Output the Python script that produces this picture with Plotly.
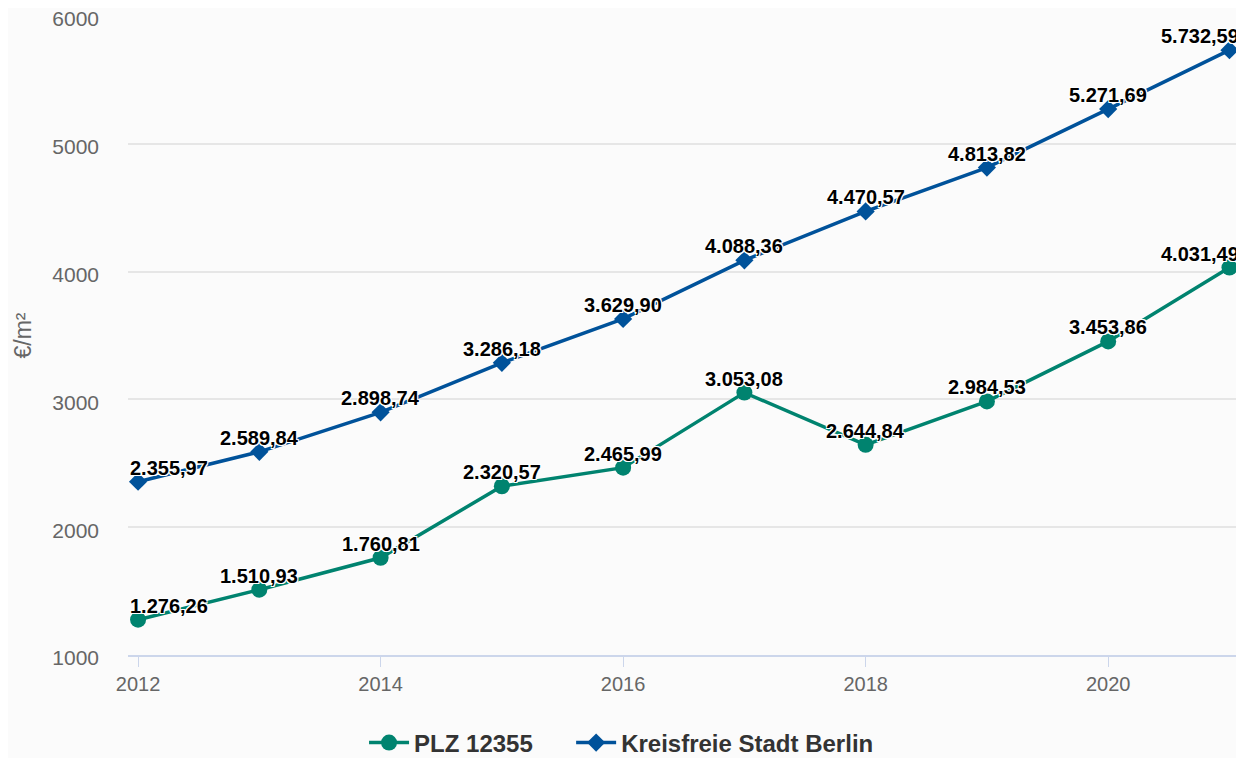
import plotly.graph_objects as go

years = [2012, 2013, 2014, 2015, 2016, 2017, 2018, 2019, 2020, 2021]
plz_values = [1276.26, 1510.93, 1760.81, 2320.57, 2465.99, 3053.08, 2644.84, 2984.53, 3453.86, 4031.49]
berlin_values = [2355.97, 2589.84, 2898.74, 3286.18, 3629.90, 4088.36, 4470.57, 4813.82, 5271.69, 5732.59]
y_ticks = [1000, 2000, 3000, 4000, 5000, 6000]
x_ticks = [2012, 2014, 2016, 2018, 2020]

TEAL = "#00836f"
BLUE = "#00529a"
FONT = "Liberation Sans, Arial"
GAP = "\u00a0" * 5  # extra room between legend entries


def de_format(v):
    s = f"{v:,.2f}"
    return s.replace(",", "X").replace(".", ",").replace("X", ".")


halo = "-1px -1px 0 #fff, 1px -1px 0 #fff, -1px 1px 0 #fff, 1px 1px 0 #fff, 0 1px 0 #fff, 0 -1px 0 #fff"
label_font = dict(family=FONT, size=20, color="#000000", weight="bold", shadow=halo)

fig = go.Figure()
fig.add_trace(go.Scatter(
    x=years, y=plz_values, name="PLZ 12355" + GAP,
    mode="lines+markers",
    line=dict(color=TEAL, width=3.5),
    marker=dict(symbol="circle", size=16, color=TEAL),
    cliponaxis=False,
))
fig.add_trace(go.Scatter(
    x=years, y=berlin_values, name="Kreisfreie Stadt Berlin",
    mode="lines+markers",
    line=dict(color=BLUE, width=3.5),
    marker=dict(symbol="diamond", size=14, color=BLUE),
    cliponaxis=False,
))

# data labels (kept inside the plot box at both ends)
annotations = []
for series in (plz_values, berlin_values):
    for i, (x, y) in enumerate(zip(years, series)):
        shift = 0
        if i == 0:
            shift = 31
        elif i == len(years) - 1:
            shift = -29
        annotations.append(dict(
            x=x, y=y, xref="x", yref="y", text=de_format(y),
            showarrow=False, xanchor="center", yanchor="bottom",
            xshift=shift, yshift=1, font=label_font,
        ))

# y axis title
annotations.append(dict(
    x=0, y=0.5, xref="paper", yref="paper", text="€/m²", textangle=-90,
    showarrow=False, xanchor="center", yanchor="middle", xshift=-106,
    font=dict(family=FONT, size=23, color="#666666"),
))

fig.update_layout(
    width=1236, height=750,
    paper_bgcolor="#fbfbfb", plot_bgcolor="#fbfbfb",
    margin=dict(l=120, r=0, t=8, b=103, autoexpand=False),
    font=dict(family=FONT, color="#666666", size=16),
    showlegend=True,
    annotations=annotations,
    legend=dict(orientation="h", xref="container", x=0.4964, xanchor="center",
                yref="container", y=0.02, yanchor="middle",
                font=dict(size=24, color="#333333", weight="bold"),
                itemwidth=40, bgcolor="rgba(0,0,0,0)"),
)
fig.update_xaxes(
    range=[2011.917, 2021.12], tickvals=x_ticks, showgrid=False,
    showline=True, linecolor="#ccd6eb", linewidth=2,
    ticks="outside", tickcolor="#ccd6eb", ticklen=10, tickwidth=1,
    tickfont=dict(size=20, color="#666666"), zeroline=False,
)
fig.update_yaxes(
    range=[1000, 6000], tickvals=y_ticks, showgrid=True, gridcolor="#e6e6e6",
    gridwidth=2, zeroline=False, showline=False,
    ticks="", ticklabelstandoff=28, ticklabeloverflow="allow", ticklabelshift=3,
    tickfont=dict(size=21, color="#666666"),
)

fig.write_html("out.html")
